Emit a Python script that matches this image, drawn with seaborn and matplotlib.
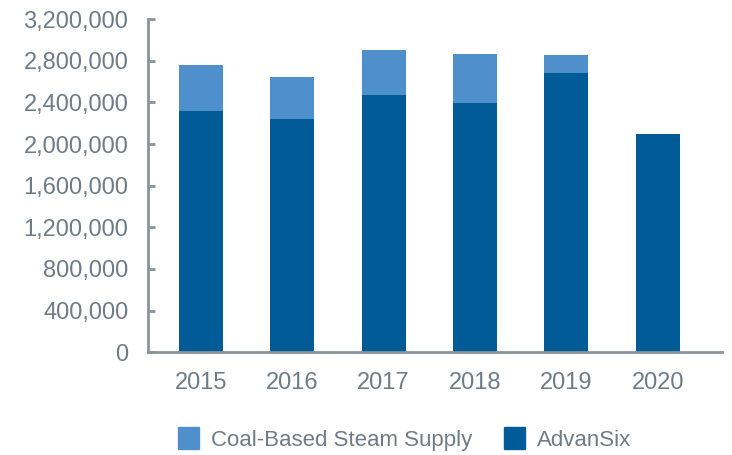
import pandas
import seaborn as sea
from matplotlib import pyplot
from matplotlib.patches import Patch
from matplotlib.ticker import FuncFormatter

years = ["2015", "2016", "2017", "2018", "2019", "2020"]
advansix = [2317000, 2240000, 2471000, 2394000, 2683000, 2096000]
coal_steam = [443000, 404000, 433000, 471000, 173000, 0]

LIGHT = "#4f8fcc"
DARK = "#005b96"
TEXT = "#6f7b86"
AXIS = "#8a949c"

sea.set_style("white")
pyplot.rcParams["font.family"] = ["Liberation Sans", "DejaVu Sans"]

frame = pandas.DataFrame({
    "year": years,
    "advansix": advansix,
    "total": [a + c for a, c in zip(advansix, coal_steam)],
})

figure = pyplot.figure(figsize=(7.32, 4.55), dpi=100)
axis = figure.add_axes([0.202, 0.226, 0.784, 0.732])

# stacked bars: total first, AdvanSix drawn on top
sea.barplot(data=frame, x="year", y="total", color=LIGHT, width=0.48,
            saturation=1, linewidth=0, ax=axis)
sea.barplot(data=frame, x="year", y="advansix", color=DARK, width=0.48,
            saturation=1, linewidth=0, ax=axis)

axis.set_ylim(0, 3200000)
axis.set_xlim(-0.58, 5.7)
axis.set_yticks(range(0, 3200001, 400000))
axis.yaxis.set_major_formatter(FuncFormatter(lambda v, _: f"{int(v):,}"))
axis.set_xlabel("")
axis.set_ylabel("")

for side in ["top", "right"]:
    axis.spines[side].set_visible(False)
for side in ["left", "bottom"]:
    axis.spines[side].set_color(AXIS)
    axis.spines[side].set_linewidth(2)

axis.tick_params(axis="y", direction="in", length=5, width=2, color=AXIS,
                 labelsize=17, labelcolor=TEXT, pad=14, left=True)
axis.tick_params(axis="x", length=0, labelsize=17, labelcolor=TEXT, pad=14)

handles = [Patch(color=LIGHT, label="Coal-Based Steam Supply"),
           Patch(color=DARK, label="AdvanSix")]
figure.legend(handles=handles, loc="lower center", ncol=2, frameon=False,
              bbox_to_anchor=(0.553, -0.035), fontsize=16, labelcolor=TEXT,
              handlelength=0.95, handleheight=1.15, columnspacing=1.4,
              handletextpad=0.55)

figure.savefig("out.png", dpi=100)
